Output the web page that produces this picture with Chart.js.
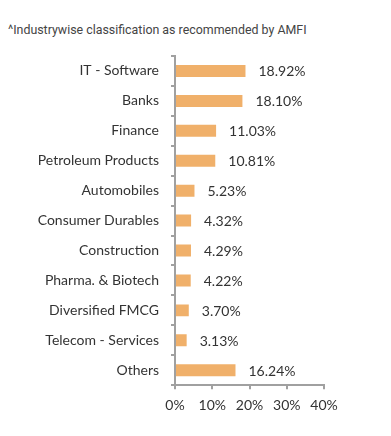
<!DOCTYPE html>
<html>
<head>
<meta charset="utf-8">
<script src="https://cdn.jsdelivr.net/npm/chart.js@4.4.0/dist/chart.umd.min.js"></script>
<style>
  body { margin: 0; background: #fff; }
  #wrap { position: relative; width: 391px; height: 436px; }
  #note { position: absolute; left: 8px; top: 22px; font: 12.4px Roboto, sans-serif; color: #444; white-space: nowrap; }
  canvas { position: absolute; left: 0; top: 0; }
</style>
</head>
<body>
<div id="wrap">
  <div id="note">^Industrywise classification as recommended by AMFI</div>
  <canvas id="myChart" width="391" height="436"></canvas>
</div>
<script>
const sectors = ['IT - Software', 'Banks', 'Finance', 'Petroleum Products', 'Automobiles',
  'Consumer Durables', 'Construction', 'Pharma. & Biotech', 'Diversified FMCG',
  'Telecom - Services', 'Others'];
const weights = [18.92, 18.10, 11.03, 10.81, 5.23, 4.32, 4.29, 4.22, 3.70, 3.13, 16.24];
const xTicks = [0, 10, 20, 30, 40];

const ctx = document.getElementById('myChart');
const fontFamily = 'Lato, sans-serif';
const axisGrey = '#a0a0a0';

// value labels to the right of each bar
const barLabels = {
  id: 'barLabels',
  afterDatasetsDraw: function (chart) {
    let c = chart.ctx;
    let meta = chart.getDatasetMeta(0);
    c.save();
    c.font = '14px ' + fontFamily;
    c.fillStyle = '#333';
    c.textBaseline = 'middle';
    c.textAlign = 'left';
    meta.data.forEach(function (bar, i) {
      c.fillText(weights[i].toFixed(2) + '%', bar.x + 13, bar.y + 1);
    });
    c.restore();
  },
};

new Chart(ctx, {
  type: 'bar',
  data: {
    labels: sectors,
    datasets: [
      {
        data: weights,
        backgroundColor: '#f0b06a',
        borderWidth: 0,
        barPercentage: 0.4,
        categoryPercentage: 1,
      },
    ],
  },
  options: {
    indexAxis: 'y',
    responsive: false,
    animation: false,
    layout: { padding: { top: 56, right: 67, bottom: 14, left: 0 } },
    plugins: {
      legend: { display: false },
      tooltip: { enabled: false },
    },
    scales: {
      x: {
        min: 0,
        max: 40,
        afterBuildTicks: function (axis) {
          axis.ticks = xTicks.map(function (v) { return { value: v }; });
        },
        grid: { drawOnChartArea: false, color: axisGrey, lineWidth: 2, tickLength: 4 },
        border: { color: axisGrey, width: 2 },
        ticks: {
          padding: 8,
          color: '#333',
          font: { family: fontFamily, size: 14 },
          callback: function (v) { return v + '%'; },
        },
      },
      y: {
        grid: { drawOnChartArea: false, color: axisGrey, lineWidth: 2, tickLength: 4, offset: true },
        border: { color: axisGrey, width: 2 },
        afterFit: function (axis) { axis.width = 175; },
        ticks: {
          padding: 12,
          color: '#333',
          font: { family: fontFamily, size: 14 },
        },
      },
    },
  },
  plugins: [barLabels],
});
</script>
</body>
</html>
